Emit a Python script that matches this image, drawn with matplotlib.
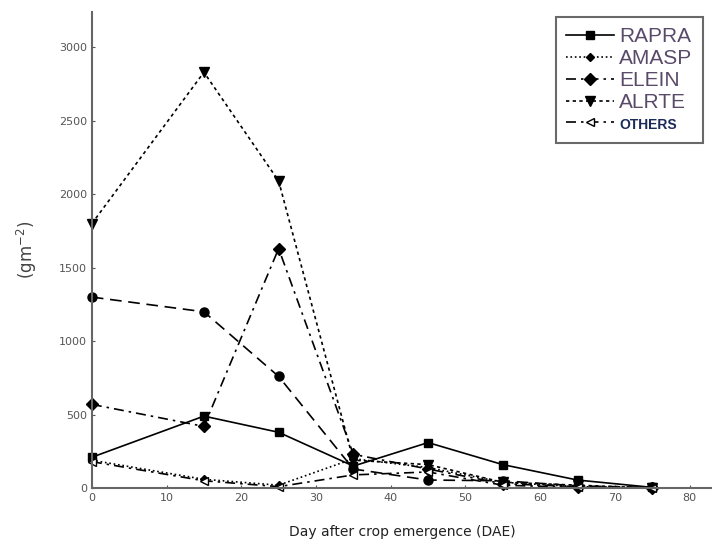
import numpy as np
import matplotlib.pyplot as plt

# weed dry weight over days after crop emergence

dae = [0, 15, 25, 35, 45, 55, 65, 75]

rapra = [210, 490, 380, 150, 310, 160, 55, 5]
amasp = [190, 60, 20, 200, 140, 40, 10, 0]
elein = [570, 420, 1630, 230, 130, 30, 10, 0]
alrte = [1800, 2830, 2090, 190, 160, 40, 20, 0]
others = [180, 50, 10, 90, 110, 20, 5, 0]
circ = [1300, 1200, 760, 130, 55, 50, 15, 5]

fig = plt.figure(figsize=(7.12, 5.46), dpi=100)
ax = fig.add_axes([0.129, 0.106, 0.871, 0.872])

ax.plot(dae, circ, color='black', ls=(0, (7, 4)), lw=1.2, marker='o', ms=6.5, clip_on=False)
ax.plot(dae, rapra, color='black', ls='-', lw=1.2, marker='s', ms=6, label='RAPRA', clip_on=False)
ax.plot(dae, amasp, color='black', ls=':', lw=1.2, marker='D', ms=4, label='AMASP', clip_on=False)
ax.plot(dae, elein, color='black', ls=(0, (6, 3, 1.5, 3)), lw=1.2, marker='D', ms=6, label='ELEIN', clip_on=False)
ax.plot(dae, alrte, color='black', ls=(0, (2, 2)), lw=1.2, marker='v', ms=7, label='ALRTE', clip_on=False)
ax.plot(dae, others, color='black', ls=(0, (6, 3, 1.5, 3)), lw=1.2, marker='<', ms=6, label='OTHERS',
        mfc='white', clip_on=False)

ax.set_xlim(0, 83)
ax.set_ylim(0, 3240)
ax.set_xticks(np.arange(0, 81, 10))
ax.set_yticks(np.arange(0, 3001, 500))
ax.tick_params(colors='#555555', labelsize=8, direction='in', length=2)
for s in ['top', 'right']:
    ax.spines[s].set_visible(False)
for s in ['left', 'bottom']:
    ax.spines[s].set_color('#666666')
    ax.spines[s].set_linewidth(1.5)

ax.set_xlabel('Day after crop emergence (DAE)', fontsize=10, color='#222222', labelpad=16)
ax.set_ylabel('(gm$^{-2}$)', fontsize=12, color='#444444', labelpad=14)

leg = ax.legend(loc='upper left', bbox_to_anchor=(0.748, 0.99), frameon=True,
                prop={'family': 'Liberation Sans', 'size': 15},
                fancybox=False, edgecolor='#444444', handlelength=2.3, handletextpad=0.25,
                labelspacing=0.14, borderpad=0.5, borderaxespad=0)
leg.get_frame().set_linewidth(1.5)
for t in leg.get_texts():
    t.set_color('#5a4a6a')
leg.get_texts()[-1].set_fontsize(10)
leg.get_texts()[-1].set_color('#1a2a5a')
leg.get_texts()[-1].set_fontweight('bold')

fig.savefig('out.png', dpi=100)
